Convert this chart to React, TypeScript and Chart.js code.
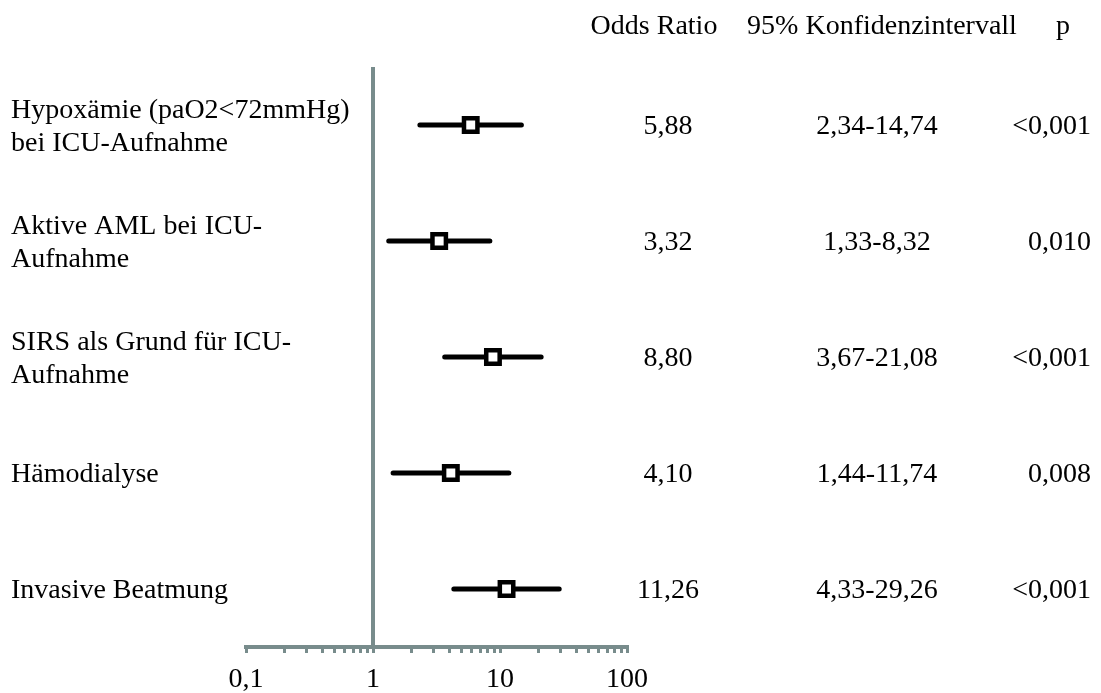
import React, { useEffect, useRef } from "react";
import { Chart, registerables } from "chart.js";

Chart.register(...registerables);

const rowLabels: string[][] = [
  ["Hypoxämie (paO2<72mmHg)", "bei ICU-Aufnahme"],
  ["Aktive AML bei ICU-", "Aufnahme"],
  ["SIRS als Grund für ICU-", "Aufnahme"],
  ["Hämodialyse"],
  ["Invasive Beatmung"],
];
const oddsRatios = [5.88, 3.32, 8.8, 4.1, 11.26];
const ciLow = [2.34, 1.33, 3.67, 1.44, 4.33];
const ciHigh = [14.74, 8.32, 21.08, 11.74, 29.26];
const pValues = ["<0,001", "0,010", "<0,001", "0,008", "<0,001"];
const headers = ["Odds Ratio", "95% Konfidenzintervall", "p"];
const majorTicks = [0.1, 1, 10, 100];
const allTicks: number[] = [];
[0.1, 1, 10].forEach((d) => {
  for (let k = 1; k <= 9; k++) allTicks.push(+(d * k).toFixed(2));
});
allTicks.push(100);

const FONT = '"Liberation Serif", "Times New Roman", serif';
const FS = 28;
const GRAY = "#788c8c";

const fmt = (v: number) => v.toFixed(2).replace(".", ",");

const textPlugin = {
  id: "forestText",
  afterDraw(chart: any) {
    const ctx = chart.ctx as CanvasRenderingContext2D;
    const ys = chart.scales.y;
    const capHalf = FS * 0.331;
    ctx.save();
    ctx.fillStyle = "#000";
    ctx.font = `${FS}px ${FONT}`;
    ctx.textBaseline = "alphabetic";
    // headers
    ctx.textAlign = "center";
    ctx.fillText(headers[0], 654, 25 + capHalf);
    ctx.fillText(headers[1], 882, 25 + capHalf);
    ctx.fillText(headers[2], 1063, 25 + capHalf);
    const lineGap = 33.5;
    rowLabels.forEach((lines, i) => {
      const cy = ys.getPixelForValue(i + 1);
      ctx.textAlign = "left";
      const start = cy - ((lines.length - 1) * lineGap) / 2;
      lines.forEach((ln, j) => ctx.fillText(ln, 11, start + j * lineGap + capHalf));
      ctx.textAlign = "center";
      ctx.fillText(fmt(oddsRatios[i]), 668, cy + capHalf);
      ctx.fillText(fmt(ciLow[i]) + "-" + fmt(ciHigh[i]), 877, cy + capHalf);
      ctx.textAlign = "right";
      ctx.fillText(pValues[i], 1091, cy + capHalf);
    });
    ctx.restore();
  },
};

export default function App() {
  const ref = useRef<HTMLCanvasElement>(null);
  useEffect(() => {
    if (!ref.current) return;
    const ciSets = oddsRatios.map((_, i) => ({
      type: "scatter" as const,
      data: [
        { x: ciLow[i], y: i + 1 },
        { x: ciHigh[i], y: i + 1 },
      ],
      showLine: true,
      borderColor: "#000",
      borderWidth: 5,
      borderCapStyle: "round" as const,
      pointRadius: 0,
    }));
    const chart = new Chart(ref.current, {
      type: "scatter",
      data: {
        datasets: [
          {
            data: oddsRatios.map((v, i) => ({ x: v, y: i + 1 })),
            pointStyle: "rect",
            pointRadius: 9.5,
            pointBorderWidth: 4.5,
            pointBackgroundColor: "#fff",
            pointBorderColor: "#000",
          },
          ...ciSets,
          {
            data: [
              { x: 1, y: 0.5 },
              { x: 1, y: 5.5 },
            ],
            showLine: true,
            borderColor: GRAY,
            borderWidth: 4,
            pointRadius: 0,
          },
        ] as any,
      },
      options: {
        animation: false,
        responsive: false,
        events: [],
        layout: { padding: { left: 246, right: 474, top: 67, bottom: 0 } },
        plugins: { legend: { display: false }, tooltip: { enabled: false } },
        scales: {
          x: {
            type: "logarithmic",
            min: 0.1,
            max: 100,
            afterBuildTicks: (s: any) => {
              s.ticks = allTicks.map((v) => ({ value: v, major: majorTicks.includes(v) }));
            },
            afterFit: (s: any) => {
              s.height = 46;
            },
            border: { color: GRAY, width: 4 },
            grid: {
              drawOnChartArea: false,
              drawTicks: true,
              tickLength: 6,
              color: GRAY,
              lineWidth: 3,
            },
            ticks: {
              autoSkip: false,
              maxRotation: 0,
              padding: 10,
              color: "#000",
              font: { family: FONT, size: FS },
              callback: (v: any) => {
                const n = Number(v);
                if (!majorTicks.some((m) => Math.abs(m - n) < 1e-9)) return "";
                return String(n).replace(".", ",");
              },
            },
          },
          y: {
            type: "linear",
            min: 0.5,
            max: 5.5,
            reverse: true,
            display: false,
          },
        },
      },
      plugins: [textPlugin],
    });
    return () => chart.destroy();
  }, []);
  return (
    <div style={{ position: "fixed", left: 0, top: 0, width: 1101, height: 693, background: "#fff" }}>
      <canvas ref={ref} width={1101} height={693} />
    </div>
  );
}
